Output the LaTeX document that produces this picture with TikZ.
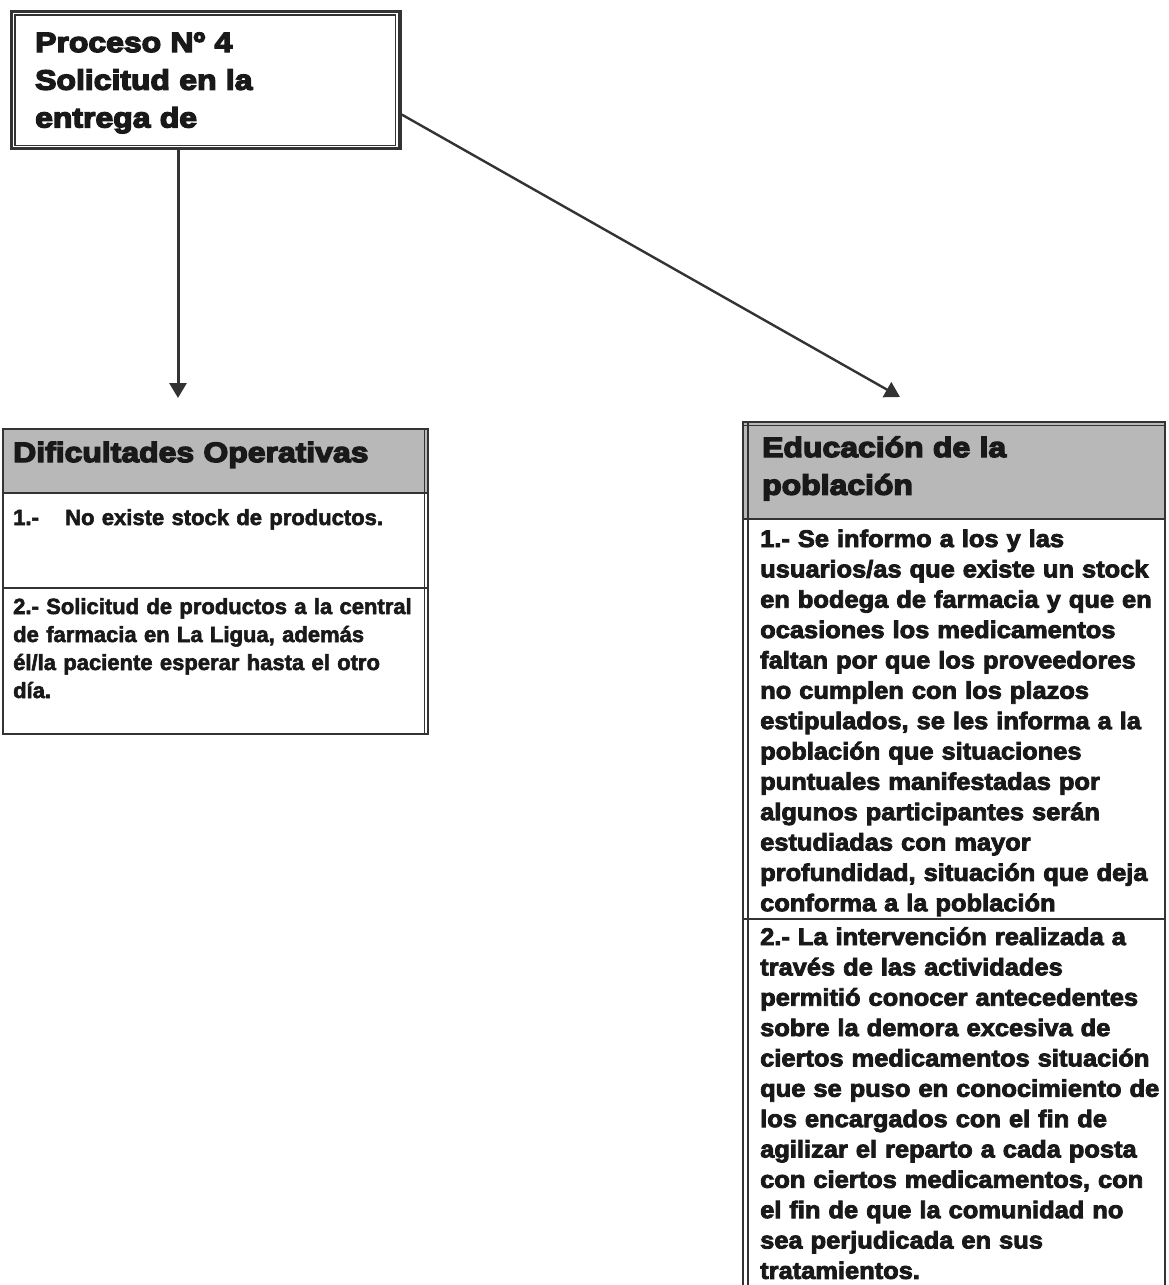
\documentclass[tikz,border=0pt]{standalone}
\usepackage{fontspec}
\setmainfont{Liberation Sans}
% heavy, wide faces for the titles and for the right-hand list
\newfontfamily\headfont{Liberation Sans Bold}[FakeStretch=1.14,FakeBold=5]
\newfontfamily\itemfont{Liberation Sans Bold}[FakeStretch=1.06,FakeBold=3.5]
\newfontfamily\plainbold{Liberation Sans Bold}[FakeBold=2.5]
\usetikzlibrary{arrows.meta}

\definecolor{ink}{gray}{0.1}
\definecolor{rulegray}{gray}{0.2}
\definecolor{hdrgray}{gray}{0.72}

\begin{document}
\begin{tikzpicture}[x=1pt,y=-1pt,
  txt/.style={anchor=base west, inner sep=0pt, text width=440pt, align=left, text=ink},
  headtxt/.style={txt, font=\headfont\fontsize{28}{37.7}\selectfont},
  lefttxt/.style={txt, font=\plainbold\fontsize{22}{28}\selectfont},
  righttxt/.style={txt, font=\itemfont\fontsize{24}{30.35}\selectfont},
  frame/.style={draw=rulegray, line width=1.8pt},
  link/.style={draw=rulegray, -{Triangle[length=15pt,width=17pt]}},
]
\useasboundingbox (0,0) rectangle (1168,1285);

% ---- process box (double frame) ----
\node[draw=rulegray, line width=3.5pt, minimum width=388.5pt, minimum height=137pt,
      inner sep=0pt, anchor=north west] (proc) at (9.75,9.75) {};
\draw[rulegray, line width=1.2pt]
  ([shift={(5.25,5.25)}]proc.north west) rectangle ([shift={(-6.25,-4.75)}]proc.south east);
\node[headtxt] (proctext) at (35,52) {Proceso Nº 4\\Solicitud en la\\entrega de};

% ---- left table: operational difficulties ----
\fill[hdrgray] (2,428) rectangle (427,492);
\node[frame, minimum width=425pt, minimum height=305pt, inner sep=0pt,
      anchor=north west] (dif) at (2,428) {};
\draw[rulegray, line width=1pt] (424.5,428) -- (424.5,733);
\draw[rulegray, line width=2pt] (2,492.5) -- (427,492.5);
\draw[rulegray, line width=1.5pt] (2,588) -- (427,588);
\node[headtxt] (difhead) at (13,462) {Dificultades Operativas};
\node[lefttxt] (dif1) at (13,525) {\makebox[52pt][l]{1.-}No existe stock de productos.};
\node[lefttxt] (dif2) at (13,614) {2.- Solicitud de productos a la central\\
de farmacia en La Ligua, además\\
él/la paciente esperar hasta el otro\\
día.};

% ---- right table: education of the population (open at the foot) ----
\fill[hdrgray] (743,422) rectangle (1165,518);
\node[inner sep=0pt, minimum width=422pt, minimum height=863pt,
      anchor=north west] (edu) at (743,422) {};
\draw[rulegray, line width=1.8pt] (743,1285) -- (743,422) -- (1165,422) -- (1165,1285);
\draw[rulegray, line width=1.1pt] (748,422) -- (748,1285);
\draw[rulegray, line width=1.1pt] (743,425.5) -- (1165,425.5);
\draw[rulegray, line width=2pt] (743,519) -- (1165,519);
\draw[rulegray, line width=1.5pt] (743,919) -- (1165,919);
\node[headtxt] (eduhead) at (762,457) {Educación de la\\población};
\node[righttxt] (edu1) at (760,547) {1.- Se informo a los y las\\
usuarios/as que existe un stock\\
en bodega de farmacia y que en\\
ocasiones los medicamentos\\
faltan por que los proveedores\\
no cumplen con los plazos\\
estipulados, se les informa a la\\
población que situaciones\\
puntuales manifestadas por\\
algunos participantes serán\\
estudiadas con mayor\\
profundidad, situación que deja\\
conforma a la población};
\node[righttxt] (edu2) at (760,945) {2.- La intervención realizada a\\
través de las actividades\\
permitió conocer antecedentes\\
sobre la demora excesiva de\\
ciertos medicamentos situación\\
que se puso en conocimiento de\\
los encargados con el fin de\\
agilizar el reparto a cada posta\\
con ciertos medicamentos, con\\
el fin de que la comunidad no\\
sea perjudicada en sus\\
tratamientos.};

% ---- connectors ----
\coordinate (difIn) at (178,398);
\coordinate (eduIn) at (900,397);
\draw[link, line width=3pt] (proc.south -| difIn) -- (difIn);
\draw[link, line width=2.4pt] (proc.-10) -- (eduIn);
\end{tikzpicture}
\end{document}
